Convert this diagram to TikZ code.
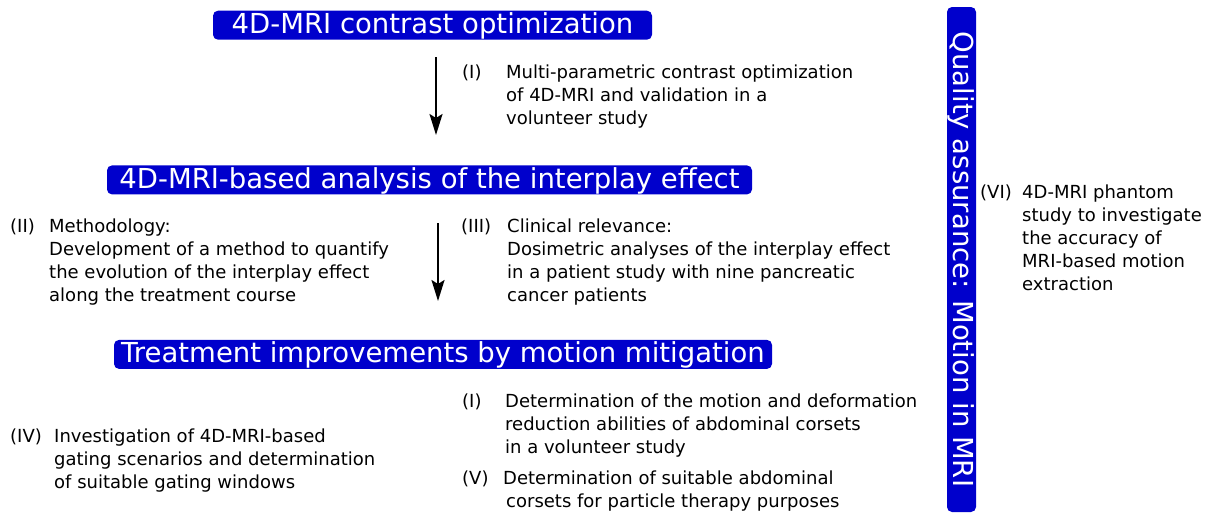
\documentclass[tikz,border=0pt]{standalone}
\usepackage{fontspec}
\setmainfont{DejaVu Sans}
\usetikzlibrary{arrows.meta}
\definecolor{hblue}{RGB}{0,0,204}
\newcommand\tblock[1]{\vtop{\baselineskip=23pt\lineskiplimit=0pt\halign{##\hfil\cr #1\crcr}}}
\begin{document}
\begin{tikzpicture}[x=1pt,y=-1pt,
  hbox/.style={fill=hblue,text=white,rounded corners=5pt,inner xsep=0pt,inner ysep=0pt,
    font=\fontsize{27.5}{30}\selectfont,text height=22.6pt,text depth=6.4pt,anchor=base},
  lbl/.style={inner sep=0pt,anchor=base west,font=\fontsize{18}{23}\selectfont},
  txt/.style={inner sep=0pt,anchor=base west,font=\fontsize{18}{23}\selectfont},
  arr/.style={line width=2pt,-{Stealth[length=21pt,width=13pt,inset=4pt]}}]
\useasboundingbox (0,0) rectangle (1217,514);

% headings
\node[hbox,minimum width=439pt] (h1) at (432.5,33.3) {4D-MRI contrast optimization};
\node[hbox,minimum width=645pt] (h2) at (429.5,188) {4D-MRI-based analysis of the interplay effect};
\node[hbox,minimum width=658pt] (h3) at (443,362.5) {Treatment improvements by motion mitigation};
\node[hbox,rotate=-90,minimum width=505pt,anchor=center] (qa) at (961.5,259.5) {Quality assurance: Motion in MRI};

% arrows
\coordinate (a1s) at (436,57);
\coordinate (a1e) at (436,135);
\coordinate (a2s) at (438,223);
\coordinate (a2e) at (438,301);
\draw[arr] (a1s) -- (a1e);
\draw[arr] (a2s) -- (a2e);

% (I) top
\node[lbl] (l1) at (462,78) {(I)};
\node[txt] (t1) at (506,78) {\tblock{Multi-parametric contrast optimization\cr of 4D-MRI and validation in a\cr volunteer study}};

% (II)
\node[lbl] (l2) at (10,232) {(II)};
\node[txt] (t2) at (49,232) {\tblock{Methodology:\cr Development of a method to quantify\cr the evolution of the interplay effect\cr along the treatment course}};

% (III)
\node[lbl] (l3) at (461,232) {(III)};
\node[txt] (t3) at (507,232) {\tblock{Clinical relevance:\cr Dosimetric analyses of the interplay effect\cr in a patient study with nine pancreatic\cr cancer patients}};

% (IV)
\node[lbl] (l4) at (10,442) {(IV)};
\node[txt] (t4) at (54,442) {\tblock{Investigation of 4D-MRI-based\cr gating scenarios and determination\cr of suitable gating windows}};

% (I) lower
\node[lbl] (l5) at (462,407) {(I)};
\node[txt] (t5) at (505,407) {\tblock{Determination of the motion and deformation\cr reduction abilities of abdominal corsets\cr in a volunteer study}};

% (V)
\node[lbl] (l6) at (462,484) {(V)};
\node[txt] (t6) at (503,484) {\tblock{Determination of suitable abdominal\cr \hspace*{3pt}corsets for particle therapy purposes}};

% (VI)
\node[lbl] (l7) at (980,198) {(VI)};
\node[txt] (t7) at (1022,198) {\tblock{4D-MRI phantom\cr study to investigate\cr the accuracy of\cr MRI-based motion\cr extraction}};
\end{tikzpicture}
\end{document}
